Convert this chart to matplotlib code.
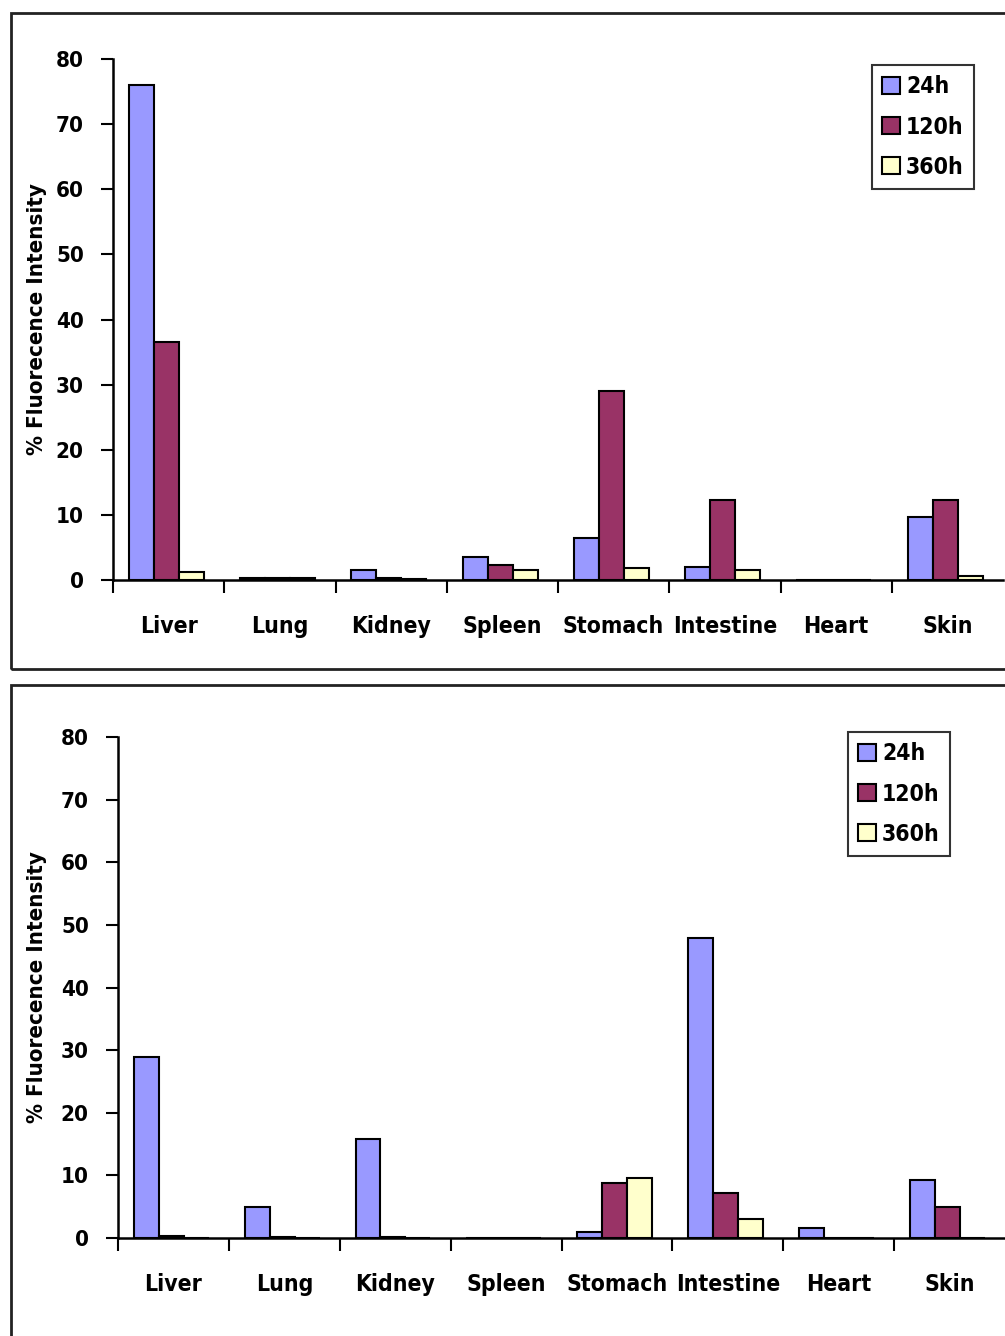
import matplotlib
matplotlib.use('Agg')
import matplotlib.pyplot as plt
from matplotlib.patches import Rectangle
import numpy as np

################################
## DATA:                      ##

organs = ['Liver', 'Lung', 'Kidney', 'Spleen', 'Stomach', 'Intestine', 'Heart', 'Skin']
series = ['24h', '120h', '360h']
colors = ['#9999FF', '#993366', '#FFFFCC']

top_24h = [76.0, 0.3, 1.5, 3.5, 6.5, 2.0, 0.0, 9.7]
top_120h = [36.5, 0.3, 0.3, 2.3, 29.0, 12.3, 0.0, 12.3]
top_360h = [1.2, 0.3, 0.2, 1.5, 1.8, 1.5, 0.0, 0.6]

bot_24h = [28.9, 5.0, 15.8, 0.0, 1.0, 47.9, 1.6, 9.3]
bot_120h = [0.3, 0.2, 0.2, 0.0, 8.8, 7.2, 0.0, 5.0]
bot_360h = [0.0, 0.0, 0.0, 0.0, 9.6, 3.0, 0.0, 0.0]

yticks = [0, 10, 20, 30, 40, 50, 60, 70, 80]

################################
## SETUP:                     ##

W, H = 1005, 1336
plt.rcParams['font.family'] = ['DejaVu Sans']
plt.rcParams['font.stretch'] = 'condensed'
plt.rcParams['font.weight'] = 'bold'

fig = plt.figure(figsize=(W / 100, H / 100), dpi=100)

# panel frames
fig.patches.append(Rectangle((11 / W, 1 - 669 / H), 1.0, (669 - 13) / H,
                             transform=fig.transFigure, fill=False, lw=2, ec='#222222'))
fig.patches.append(Rectangle((11 / W, -0.01), 1.0, 1 - 685 / H + 0.01,
                             transform=fig.transFigure, fill=False, lw=2, ec='#222222'))


def draw_panel(rect, values, legend_anchor, label_x):
    ax = fig.add_axes(rect)
    x = np.arange(len(organs)) + 0.48
    bw = 0.225
    for i, (vals, c, name) in enumerate(zip(values, colors, series)):
        ax.bar(x + (i - 1) * bw, vals, bw, color=c, edgecolor='black', linewidth=1.5, label=name)
    ax.set_xlim(0, 8)
    ax.set_ylim(0, 80)
    ax.set_yticks(yticks)
    ax.set_yticklabels([str(v) for v in yticks], fontsize=16, fontweight='bold')
    ax.set_xticks(np.arange(len(organs)) + 0.5)
    ax.set_xticklabels(organs, fontsize=16.5, fontweight='bold')
    ax.set_xticks(np.arange(0, 8), minor=True)
    ax.tick_params(axis='x', which='major', length=0, pad=25)
    ax.tick_params(axis='x', which='minor', length=9, width=1.5, direction='out')
    ax.tick_params(axis='y', length=9, width=1.5, direction='out', pad=12)
    for s in ['top', 'right']:
        ax.spines[s].set_visible(False)
    for s in ['left', 'bottom']:
        ax.spines[s].set_linewidth(1.8)
    ax.set_ylabel('% Fluorecence Intensity', fontsize=16, fontweight='bold')
    ax.yaxis.set_label_coords(label_x, 0.5)
    leg = ax.legend(loc='upper right', bbox_to_anchor=legend_anchor, bbox_transform=fig.transFigure,
                    fontsize=16.5, frameon=True, fancybox=False, handlelength=0.8, handleheight=0.8,
                    handletextpad=0.25, labelspacing=0.75, borderpad=0.45, borderaxespad=0,
                    edgecolor='black')
    leg.get_frame().set_linewidth(1.5)
    for t in leg.get_texts():
        t.set_fontweight('bold')
    return ax


draw_panel([113 / W, 1 - 580 / H, 890 / W, 521 / H],
           [top_24h, top_120h, top_360h], (974 / W, 1 - 65 / H), -0.074)
draw_panel([118 / W, 1 - 1238 / H, 887 / W, 501 / H],
           [bot_24h, bot_120h, bot_360h], (950 / W, 1 - 732 / H), -0.080)

fig.savefig('out.png', dpi=100)
